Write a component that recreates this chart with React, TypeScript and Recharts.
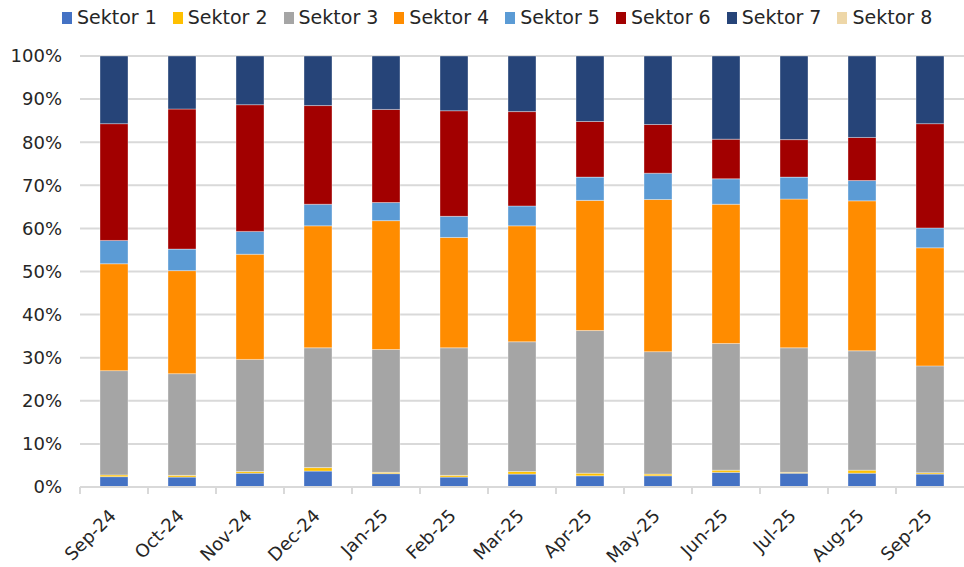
import React from 'react';
import { BarChart, Bar, XAxis, YAxis, CartesianGrid } from 'recharts';

// months on the x axis
const months = ['Sep-24', 'Oct-24', 'Nov-24', 'Dec-24', 'Jan-25', 'Feb-25', 'Mar-25', 'Apr-25', 'May-25', 'Jun-25', 'Jul-25', 'Aug-25', 'Sep-25'];

// share of each sector, in %
const sektor1 = [2.4, 2.3, 3.2, 3.7, 3.1, 2.3, 3.0, 2.6, 2.6, 3.4, 3.2, 3.2, 3.0];
const sektor2 = [0.4, 0.4, 0.4, 0.8, 0.3, 0.4, 0.6, 0.6, 0.4, 0.5, 0.2, 0.7, 0.3];
const sektor3 = [24.2, 23.6, 26.0, 27.8, 28.5, 29.6, 30.1, 33.1, 28.4, 29.4, 28.9, 27.7, 24.8];
const sektor4 = [24.8, 23.9, 24.4, 28.3, 29.9, 25.6, 26.9, 30.2, 35.3, 32.3, 34.5, 34.8, 27.4];
const sektor5 = [5.4, 5.0, 5.3, 5.0, 4.2, 4.9, 4.6, 5.4, 6.1, 5.9, 5.1, 4.7, 4.6];
const sektor6 = [27.1, 32.5, 29.4, 22.9, 21.6, 24.5, 21.9, 12.9, 11.3, 9.2, 8.7, 10.0, 24.2];
const sektor7 = [15.7, 12.3, 11.3, 11.5, 12.4, 12.7, 12.9, 15.2, 15.9, 19.3, 19.4, 18.9, 15.7];
const sektor8 = [0, 0, 0, 0, 0, 0, 0, 0, 0, 0, 0, 0, 0];

const yTicks = [0, 0.1, 0.2, 0.3, 0.4, 0.5, 0.6, 0.7, 0.8, 0.9, 1];

const series = [
  { key: 'Sektor 1', values: sektor1, color: '#4472C4' },
  { key: 'Sektor 2', values: sektor2, color: '#FFC000' },
  { key: 'Sektor 3', values: sektor3, color: '#A5A5A5' },
  { key: 'Sektor 4', values: sektor4, color: '#FF8C00' },
  { key: 'Sektor 5', values: sektor5, color: '#5B9BD5' },
  { key: 'Sektor 6', values: sektor6, color: '#A20000' },
  { key: 'Sektor 7', values: sektor7, color: '#264478' },
  { key: 'Sektor 8', values: sektor8, color: '#EED7A8' },
];

const data = months.map((m, i) => {
  const row: Record<string, string | number> = { month: m };
  series.forEach(s => { row[s.key] = s.values[i]; });
  return row;
});

const FONT = '"DejaVu Sans", sans-serif';
const TEXT = '#262626';
const GRID = '#d9d9d9';

const MonthTick = (props: any) => {
  const { x, y, payload } = props;
  const ax = x + 3;
  const ay = y + 22;
  return (
    <g>
      <line x1={x - 34} y1={y - 8} x2={x - 34} y2={y - 1} stroke={GRID} strokeWidth={2} />
      <text
        x={ax}
        y={ay}
        transform={`rotate(-45, ${ax}, ${ay})`}
        textAnchor="end"
        fill={TEXT}
        fontSize={18}
        fontFamily={FONT}
      >
        {payload.value}
      </text>
    </g>
  );
};

export default function App() {
  return (
    <div style={{ position: 'absolute', left: 0, top: 0, width: 964, height: 567, background: '#fff', fontFamily: FONT }}>
      {/* legend */}
      <div style={{ position: 'absolute', left: 62, top: 6, display: 'flex', alignItems: 'center', gap: 16 }}>
        {series.map(s => (
          <div key={s.key} style={{ display: 'flex', alignItems: 'center', gap: 5 }}>
            <span style={{ width: 10, height: 12, background: s.color, display: 'inline-block' }}></span>
            <span style={{ fontSize: 19, color: TEXT, lineHeight: '23px', whiteSpace: 'nowrap' }}>{s.key}</span>
          </div>
        ))}
      </div>

      <BarChart
        width={964}
        height={567}
        data={data}
        stackOffset="expand"
        margin={{ top: 56, right: 0, left: 0, bottom: 0 }}
      >
        <CartesianGrid vertical={false} stroke={GRID} strokeWidth={2} />
        <XAxis
          dataKey="month"
          height={80}
          interval={0}
          axisLine={{ stroke: GRID, strokeWidth: 2 }}
          tickLine={false}
          tick={<MonthTick />}
        />
        <YAxis
          width={80}
          domain={[0, 1]}
          ticks={yTicks}
          axisLine={false}
          tickLine={false}
          tickSize={0}
          tickMargin={18}
          tickFormatter={(v: number) => `${Math.round(v * 100)}%`}
          tick={{ fill: TEXT, fontSize: 18, fontFamily: FONT }}
        />
        {series.map(s => (
          <Bar
            key={s.key}
            dataKey={s.key}
            stackId="a"
            fill={s.color}
            stroke="#ffffff"
            strokeOpacity={0.35}
            strokeWidth={1}
            barSize={28}
            isAnimationActive={false}
          />
        ))}
      </BarChart>
    </div>
  );
}
